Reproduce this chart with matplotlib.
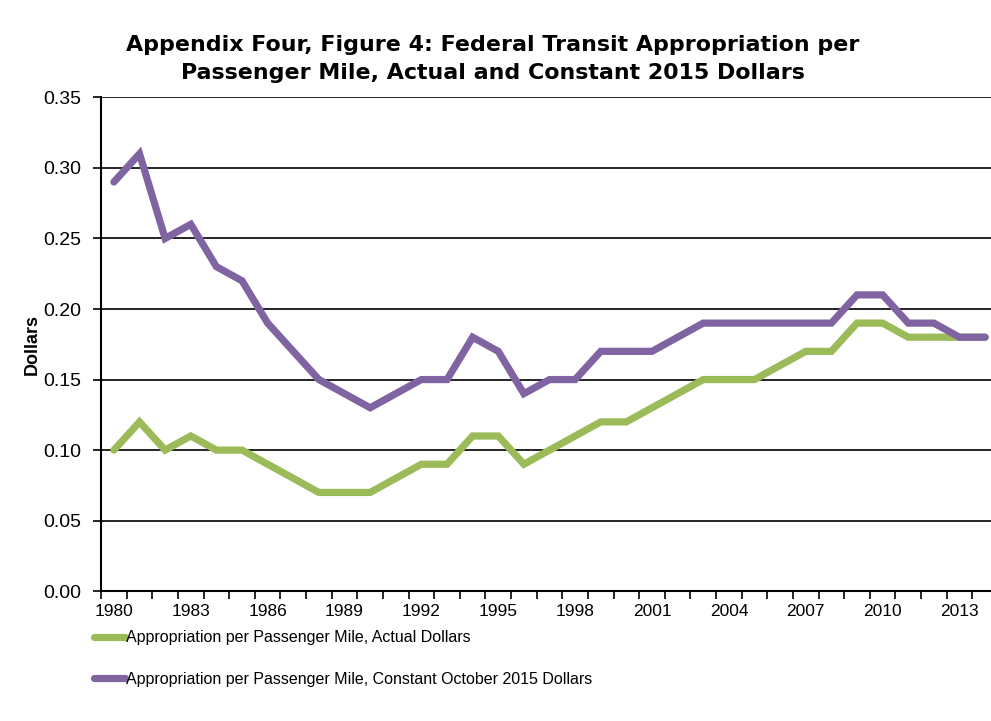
import matplotlib
matplotlib.use("Agg")
import matplotlib.pyplot as plt
import numpy as np
from matplotlib import font_manager
from matplotlib.ticker import MultipleLocator, FixedLocator

# Data (dollars per passenger mile)
years = np.arange(1980, 2015)
actual = [0.10, 0.12, 0.10, 0.11, 0.10, 0.10, 0.09, 0.08, 0.07, 0.07,
          0.07, 0.08, 0.09, 0.09, 0.11, 0.11, 0.09, 0.10, 0.11, 0.12,
          0.12, 0.13, 0.14, 0.15, 0.15, 0.15, 0.16, 0.17, 0.17, 0.19,
          0.19, 0.18, 0.18, 0.18, 0.18]
constant = [0.29, 0.31, 0.25, 0.26, 0.23, 0.22, 0.19, 0.17, 0.15, 0.14,
            0.13, 0.14, 0.15, 0.15, 0.18, 0.17, 0.14, 0.15, 0.15, 0.17,
            0.17, 0.17, 0.18, 0.19, 0.19, 0.19, 0.19, 0.19, 0.19, 0.21,
            0.21, 0.19, 0.19, 0.18, 0.18]
label_years = list(range(1980, 2014, 3))
series_names = ["Appropriation per Passenger Mile, Actual Dollars",
                "Appropriation per Passenger Mile, Constant October 2015 Dollars"]

installed = {f.name for f in font_manager.fontManager.ttflist}
narrow = "Liberation Sans Narrow" if "Liberation Sans Narrow" in installed else "Liberation Sans"

fig = plt.figure(figsize=(9.91, 7.21), dpi=100)
ax = fig.add_axes([0.102, 0.180, 0.905, 0.685])

ax.plot(years, actual, color="#9BBB59", lw=5.2, solid_capstyle="round",
        solid_joinstyle="miter", label=series_names[0], zorder=3)
ax.plot(years, constant, color="#8064A2", lw=5.2, solid_capstyle="round",
        solid_joinstyle="miter", label=series_names[1], zorder=4)

ax.set_xlim(1979.5, 2014.5)
ax.set_ylim(0, 0.35)
ax.yaxis.set_major_locator(MultipleLocator(0.05))
ax.yaxis.set_major_formatter(matplotlib.ticker.FormatStrFormatter("%.2f"))
ax.grid(axis="y", color="black", lw=1.2, zorder=1)
ax.set_axisbelow(True)

ax.xaxis.set_major_locator(FixedLocator(label_years))
ax.xaxis.set_minor_locator(FixedLocator(np.arange(1979.5, 2015, 1)))
ax.tick_params(axis="x", which="major", length=0, pad=9)
ax.tick_params(axis="x", which="minor", length=6, width=1.2, color="black", direction="out")
ax.tick_params(axis="y", length=6, width=1.2, color="black", pad=8)
for lab in ax.get_xticklabels():
    lab.set_fontfamily(narrow)
    lab.set_fontsize(12.5)
for lab in ax.get_yticklabels():
    lab.set_fontfamily(narrow)
    lab.set_fontsize(14)

for side in ["top", "right"]:
    ax.spines[side].set_visible(False)
ax.spines["left"].set_linewidth(1.5)
ax.spines["bottom"].set_linewidth(1.5)

ax.set_ylabel("Dollars", fontfamily="Liberation Sans", fontweight="bold",
              fontsize=13, labelpad=2)

fig.text(0.497, 0.951, "Appendix Four, Figure 4: Federal Transit Appropriation per\n"
         "Passenger Mile, Actual and Constant 2015 Dollars",
         ha="center", va="top", fontfamily="DejaVu Sans", fontweight="bold",
         fontsize=15.9, linespacing=1.5)

fig.legend(loc="upper left", bbox_to_anchor=(0.087, 0.137), frameon=False,
           prop={"family": narrow, "size": 11.5}, handlelength=1.9,
           handletextpad=0.1, labelspacing=1.65, borderpad=0)

fig.savefig("out.png", dpi=100)
